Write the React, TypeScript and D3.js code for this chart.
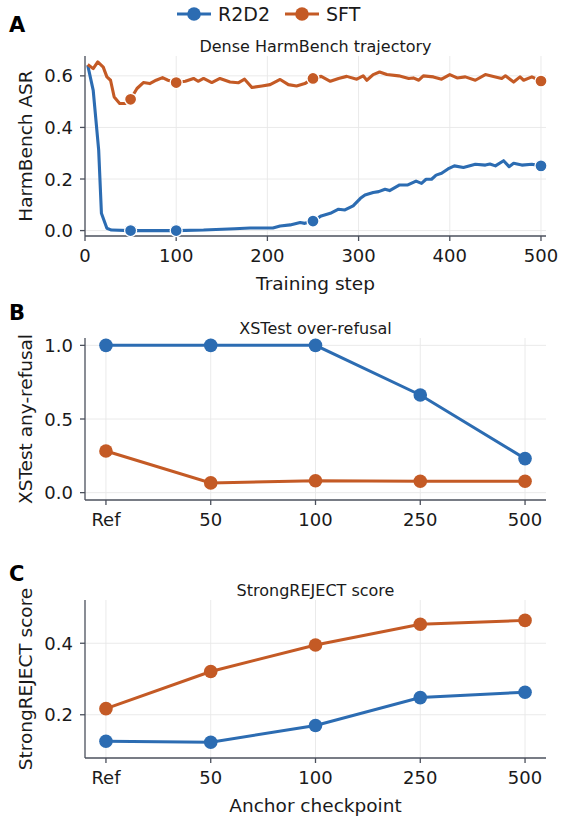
import React from "react";
import * as d3 from "d3";

// ---------- data ----------
const SERIES = ["R2D2", "SFT"];
const COLORS = ["#2c6cb2", "#c45a25"];

const r2d2Steps = [3, 9, 15, 18, 24, 29, 50, 100, 130, 164, 181, 206, 214, 225, 236, 241, 250, 259, 269, 278, 285, 294, 302, 307, 316, 322, 329, 334, 345, 354, 363, 369, 374, 380, 385, 391, 398, 405, 415, 428, 439, 444, 450, 459, 465, 470, 479, 490, 500];
const r2d2Asr = [0.641, 0.544, 0.312, 0.067, 0.009, 0.002, 0.0, 0.0, 0.002, 0.007, 0.01, 0.01, 0.018, 0.022, 0.031, 0.028, 0.037, 0.057, 0.067, 0.083, 0.08, 0.096, 0.125, 0.138, 0.148, 0.151, 0.16, 0.155, 0.177, 0.177, 0.192, 0.183, 0.199, 0.199, 0.215, 0.222, 0.239, 0.251, 0.245, 0.257, 0.254, 0.258, 0.251, 0.271, 0.248, 0.261, 0.254, 0.257, 0.251];

const sftSteps = [3, 9, 14, 20, 24, 28, 32, 38, 44, 50, 57, 64, 71, 78, 85, 91, 100, 110, 119, 124, 130, 139, 148, 159, 168, 175, 183, 194, 203, 214, 223, 232, 241, 250, 259, 269, 278, 287, 298, 305, 309, 316, 323, 331, 344, 355, 360, 366, 371, 382, 391, 400, 408, 417, 428, 439, 450, 457, 461, 470, 477, 481, 490, 500];
const sftAsr = [0.644, 0.628, 0.654, 0.634, 0.596, 0.583, 0.518, 0.493, 0.493, 0.509, 0.551, 0.574, 0.57, 0.583, 0.593, 0.583, 0.574, 0.579, 0.59, 0.579, 0.59, 0.574, 0.59, 0.576, 0.573, 0.587, 0.555, 0.561, 0.566, 0.586, 0.566, 0.561, 0.57, 0.59, 0.598, 0.579, 0.59, 0.598, 0.587, 0.6, 0.583, 0.605, 0.615, 0.605, 0.6, 0.59, 0.592, 0.583, 0.6, 0.596, 0.587, 0.605, 0.592, 0.596, 0.583, 0.605, 0.596, 0.59, 0.6, 0.576, 0.596, 0.583, 0.596, 0.58];

const anchorSteps = [50, 100, 250, 500];

const checkpoints = ["Ref", "50", "100", "250", "500"];
const xstestR2D2 = [1.0, 1.0, 1.0, 0.663, 0.231];
const xstestSFT = [0.283, 0.066, 0.081, 0.077, 0.077];
const strongR2D2 = [0.126, 0.123, 0.17, 0.248, 0.263];
const strongSFT = [0.217, 0.321, 0.395, 0.453, 0.464];

const stepTicks = [0, 100, 200, 300, 400, 500];
const asrTicks = [0.0, 0.2, 0.4, 0.6];
const xsTicks = [0.0, 0.5, 1.0];
const srTicks = [0.2, 0.4];

// ---------- style ----------
const FONT = "DejaVu Sans, sans-serif";
const SPINE = "#4b505c";
const GRID = "#e8e8e8";
const TEXT = "#1a1a1a";
const TICK_FS = 18;
const LABEL_FS = 18.5;
const TITLE_FS = 16;

const L = 85, R = 546;

type AxProps = {
  top: number; bottom: number;
  x: (v: any) => number; y: (v: number) => number;
  xTicks: any[]; xLabels: string[]; yTicks: number[]; yFmt: (v: number) => string;
  title: string; ylabel: string; xlabel?: string; letter: string; letterY: number;
};

function Axes(p: AxProps) {
  const tl = 5;
  return (
    <g>
      {p.xTicks.map((t, i) => (
        <line key={"gx" + i} x1={p.x(t)} x2={p.x(t)} y1={p.top} y2={p.bottom} stroke={GRID} strokeWidth={0.9} />
      ))}
      {p.yTicks.map((t, i) => (
        <line key={"gy" + i} x1={L} x2={R} y1={p.y(t)} y2={p.y(t)} stroke={GRID} strokeWidth={0.9} />
      ))}
      <line x1={L} x2={L} y1={p.top} y2={p.bottom} stroke={SPINE} strokeWidth={1.3} />
      <line x1={L} x2={R} y1={p.bottom} y2={p.bottom} stroke={SPINE} strokeWidth={1.3} />
      {p.xTicks.map((t, i) => (
        <g key={"xt" + i}>
          <line x1={p.x(t)} x2={p.x(t)} y1={p.bottom} y2={p.bottom + tl} stroke={SPINE} strokeWidth={1.3} />
          <text x={p.x(t)} y={p.bottom + 26} textAnchor="middle" fontSize={TICK_FS} fill={TEXT} fontFamily={FONT}>{p.xLabels[i]}</text>
        </g>
      ))}
      {p.yTicks.map((t, i) => (
        <g key={"yt" + i}>
          <line x1={L - tl} x2={L} y1={p.y(t)} y2={p.y(t)} stroke={SPINE} strokeWidth={1.3} />
          <text x={L - tl - 7} y={p.y(t) + 6.5} textAnchor="end" fontSize={TICK_FS} fill={TEXT} fontFamily={FONT}>{p.yFmt(t)}</text>
        </g>
      ))}
      <text x={(L + R) / 2} y={p.top - 4} textAnchor="middle" fontSize={TITLE_FS} fill={TEXT} fontFamily={FONT}>{p.title}</text>
      <text transform={`translate(${32},${(p.top + p.bottom) / 2}) rotate(-90)`} textAnchor="middle" fontSize={LABEL_FS} fill={TEXT} fontFamily={FONT}>{p.ylabel}</text>
      {p.xlabel && (
        <text x={(L + R) / 2} y={p.bottom + 54} textAnchor="middle" fontSize={LABEL_FS} fill={TEXT} fontFamily={FONT}>{p.xlabel}</text>
      )}
      <text x={9} y={p.letterY} fontSize={21} fontWeight="bold" fill="#000" fontFamily={FONT}>{p.letter}</text>
    </g>
  );
}

export default function App() {
  // Panel A
  const aTop = 56, aBot = 236;
  const xA = d3.scaleLinear().domain([0, 505.5]).range([L, R]);
  const yA = d3.scaleLinear().domain([-0.021, 0.677]).range([aBot, aTop]);
  const lineA = d3.line<[number, number]>().x(d => xA(d[0])).y(d => yA(d[1]));
  const trajR = r2d2Steps.map((s, i) => [s, r2d2Asr[i]] as [number, number]);
  const trajS = sftSteps.map((s, i) => [s, sftAsr[i]] as [number, number]);
  const trajs = [trajR, trajS];

  // Panel B
  const bTop = 338, bBot = 500;
  const xC = d3.scaleLinear().domain([-0.2, 4.2]).range([L, R]);
  const yB = d3.scaleLinear().domain([-0.05, 1.05]).range([bBot, bTop]);
  // Panel C
  const cTop = 600, cBot = 758;
  const yCc = d3.scaleLinear().domain([0.079, 0.521]).range([cBot, cTop]);

  const idx = checkpoints.map((_, i) => i);
  const catLine = (ys: (v: number) => number) => d3.line<number>().x((_, i) => xC(i)).y(v => ys(v));

  const bData = [xstestR2D2, xstestSFT];
  const cData = [strongR2D2, strongSFT];

  return (
    <div style={{ position: "absolute", left: 0, top: 0 }}>
      <svg width={567} height={816} style={{ display: "block", background: "#fff" }}>
        {/* legend */}
        {SERIES.map((s, i) => {
          const x0 = i === 0 ? 177 : 285;
          return (
            <g key={s}>
              <line x1={x0} x2={x0 + 34} y1={14} y2={14} stroke={COLORS[i]} strokeWidth={3.2} />
              <circle cx={x0 + 17} cy={14} r={6.8} fill={COLORS[i]} />
              <text x={x0 + 41} y={21} fontSize={19} fill={TEXT} fontFamily={FONT}>{s}</text>
            </g>
          );
        })}

        <Axes top={aTop} bottom={aBot} x={xA} y={yA} xTicks={stepTicks} xLabels={stepTicks.map(String)}
          yTicks={asrTicks} yFmt={d3.format(".1f")} title="Dense HarmBench trajectory" ylabel="HarmBench ASR"
          xlabel="Training step" letter="A" letterY={32} />
        {trajs.map((t, i) => (
          <g key={"ta" + i}>
            <path d={lineA(t) || ""} fill="none" stroke={COLORS[i]} strokeWidth={3.1} strokeLinejoin="round" />
            {anchorSteps.map(s => {
              const pt = t.find(d => d[0] === s)!;
              return <circle key={s} cx={xA(pt[0])} cy={yA(pt[1])} r={6} fill={COLORS[i]} stroke="#fff" strokeWidth={1.3} />;
            })}
          </g>
        ))}

        <Axes top={bTop} bottom={bBot} x={xC} y={yB} xTicks={idx} xLabels={checkpoints}
          yTicks={xsTicks} yFmt={d3.format(".1f")} title="XSTest over-refusal" ylabel="XSTest any-refusal"
          letter="B" letterY={320} />
        {bData.map((vals, i) => (
          <g key={"b" + i}>
            <path d={catLine(yB)(vals) || ""} fill="none" stroke={COLORS[i]} strokeWidth={3} />
            {vals.map((v, j) => <circle key={j} cx={xC(j)} cy={yB(v)} r={6.8} fill={COLORS[i]} />)}
          </g>
        ))}

        <Axes top={cTop} bottom={cBot} x={xC} y={yCc} xTicks={idx} xLabels={checkpoints}
          yTicks={srTicks} yFmt={d3.format(".1f")} title="StrongREJECT score" ylabel="StrongREJECT score"
          xlabel="Anchor checkpoint" letter="C" letterY={581} />
        {cData.map((vals, i) => (
          <g key={"c" + i}>
            <path d={catLine(yCc)(vals) || ""} fill="none" stroke={COLORS[i]} strokeWidth={3} />
            {vals.map((v, j) => <circle key={j} cx={xC(j)} cy={yCc(v)} r={6.8} fill={COLORS[i]} />)}
          </g>
        ))}
      </svg>
    </div>
  );
}
